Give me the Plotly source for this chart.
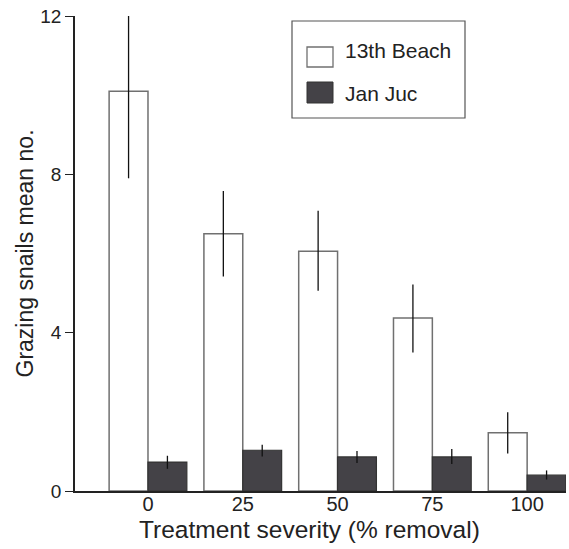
import plotly.graph_objects as go

categories = ["0", "25", "50", "75", "100"]
beach13_mean = [10.1, 6.5, 6.06, 4.37, 1.47]
beach13_err_plus = [1.9, 1.08, 1.02, 0.85, 0.52]
beach13_err_minus = [2.2, 1.08, 1.0, 0.87, 0.52]
janjuc_mean = [0.73, 1.03, 0.86, 0.86, 0.40]
janjuc_err_plus = [0.16, 0.14, 0.15, 0.2, 0.12]
janjuc_err_minus = [0.17, 0.16, 0.15, 0.18, 0.11]
y_ticks = [0, 4, 8, 12]
x_title = "Treatment severity (% removal)"
y_title = "Grazing snails mean no."

xpos = list(range(len(categories)))
FONT = "Liberation Sans, Arial, sans-serif"

fig = go.Figure()
fig.add_trace(go.Bar(
    x=xpos, y=beach13_mean, name="13th Beach",
    marker=dict(color="white", line=dict(color="#707070", width=1.5)),
    error_y=dict(type="data", array=beach13_err_plus, arrayminus=beach13_err_minus,
                 symmetric=False, color="#111111", thickness=1.3, width=0),
    showlegend=False,
))
fig.add_trace(go.Bar(
    x=xpos, y=janjuc_mean, name="Jan Juc",
    marker=dict(color="#444247", line=dict(color="#333333", width=1.2)),
    error_y=dict(type="data", array=janjuc_err_plus, arrayminus=janjuc_err_minus,
                 symmetric=False, color="#111111", thickness=1.3, width=0),
    showlegend=False,
))

W, H = 569, 549
L, R, T, B = 75, 3, 16, 58
pw, ph = W - L - R, H - T - B

def px(x):
    return (x - L) / pw

def py(y):
    return (H - B - y) / ph

shapes = [
    dict(type="rect", xref="paper", yref="paper", x0=px(292), x1=px(465), y0=py(118), y1=py(21),
         line=dict(color="#555555", width=1.2), fillcolor="white", layer="above"),
    dict(type="rect", xref="paper", yref="paper", x0=px(307), x1=px(333), y0=py(67), y1=py(47),
         line=dict(color="#707070", width=1.3), fillcolor="white", layer="above"),
    dict(type="rect", xref="paper", yref="paper", x0=px(307), x1=px(333), y0=py(103), y1=py(82),
         line=dict(color="#333333", width=1), fillcolor="#444247", layer="above"),
]
annotations = [
    dict(text="13th Beach", xref="paper", yref="paper", x=px(343), y=py(50.5), xanchor="left",
         yanchor="middle", showarrow=False, font=dict(family=FONT, size=21, color="#222222")),
    dict(text="Jan Juc", xref="paper", yref="paper", x=px(343), y=py(93.5), xanchor="left",
         yanchor="middle", showarrow=False, font=dict(family=FONT, size=21, color="#222222")),
    dict(text=x_title, xref="paper", yref="paper", x=px(309), y=py(529), xanchor="center",
         yanchor="middle", showarrow=False, font=dict(family=FONT, size=24.5, color="#222222")),
]

fig.update_layout(
    width=W, height=H,
    margin=dict(l=L, r=R, t=T, b=B),
    paper_bgcolor="white", plot_bgcolor="white",
    barmode="group", bargap=0.18, bargroupgap=0,
    font=dict(family=FONT, color="#222222"),
    shapes=shapes, annotations=annotations,
    xaxis=dict(
        range=[-0.77, 4.41], tickvals=xpos, ticktext=categories,
        showline=True, linecolor="#222222", linewidth=1.5,
        ticks="", showgrid=False, zeroline=False,
        tickfont=dict(size=20, family=FONT), ticklabelstandoff=-6,
    ),
    yaxis=dict(
        range=[0, 12], tickvals=y_ticks, ticktext=[str(v) for v in y_ticks],
        showline=True, linecolor="#222222", linewidth=1.5,
        ticks="outside", ticklen=8, tickcolor="#222222", tickwidth=1.2,
        showgrid=False, zeroline=False,
        tickfont=dict(size=19, family=FONT),
        title=dict(text=y_title, font=dict(size=23, family=FONT), standoff=0),
    ),
)

fig.write_html("out.html")
